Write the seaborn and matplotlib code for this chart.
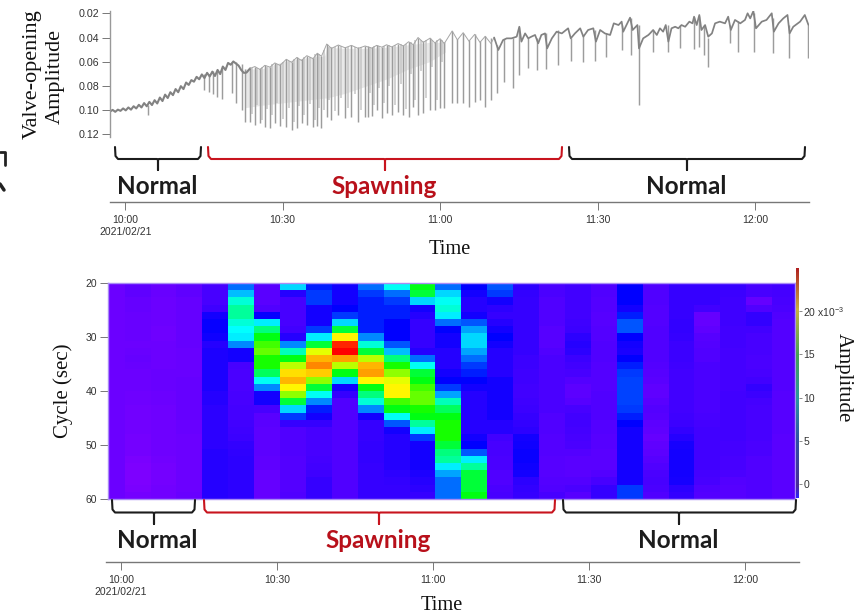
import matplotlib
matplotlib.use("Agg")
import matplotlib.pyplot as plt
from matplotlib.cm import ScalarMappable
from matplotlib.colors import LinearSegmentedColormap, Normalize
import numpy as np
import pandas as pd
import seaborn as sns

# time in minutes after 10:00, amplitude as on the inverted axis
baseline_t = [-2.9, -2.4, -1.9, -1.4, -0.9, -0.4, 0.1, 0.6, 1.1, 1.6, 2.1, 2.6, 3.1, 3.6, 4.1, 4.6, 5.1, 5.6,
              6.1, 6.6, 7.1, 7.6, 8.1, 8.6, 9.1, 9.6, 10.1, 10.6, 11.1, 11.6, 12.1, 12.6, 13.1, 13.6, 14.1, 14.6,
              15.1, 15.6, 16.1, 16.6, 17.1, 17.6, 18.1, 18.6, 19.1, 19.6, 20.1, 20.6, 21.1, 21.6, 22.1, 22.6, 23.1,
              23.8, 24.7, 25.7, 26.6, 27.6, 28.5, 29.5, 30.7, 31.7, 32.7, 33.6, 34.6, 35.8, 36.6, 37.4, 38.4, 39.3,
              40.6, 41.9, 43.1, 44.4, 45.7, 47.0, 47.9, 48.9, 49.8, 50.8, 52.0, 53.0, 54.0, 54.9, 55.8, 56.8, 58.1,
              59.0, 60.0, 60.8, 62.3, 63.3, 64.4, 65.5, 66.6, 67.6, 68.6, 69.7, 70.3, 71.1, 72.0, 72.7, 73.6, 74.6,
              75.1, 75.5, 76.2, 76.8, 77.4, 78.1, 78.7, 79.3, 80.0, 80.4, 81.3, 82.2, 83.2, 84.4, 84.9, 85.7, 86.7,
              87.3, 88.2, 89.2, 89.7, 90.5, 91.4, 92.4, 93.1, 94.0, 94.6, 94.9, 96.2, 96.7, 97.6, 97.9, 98.7, 99.7,
              100.0, 100.6, 101.3, 101.9, 102.5, 103.0, 103.5, 104.1, 104.8, 105.4, 106.0, 106.7, 107.5, 108.1,
              108.4, 108.9, 109.4, 109.8, 110.5, 111.1, 111.8, 112.4, 113.3, 114.3, 114.9, 115.4, 116.2, 117.2,
              118.1, 118.6, 119.1, 119.7, 120.2, 121.3, 122.2, 123.2, 123.6, 124.5, 125.4, 126.2, 126.6, 127.3,
              128.6, 129.5, 130.2]
baseline_amp = [.1012, .0998, .1014, .0996, .1006, .0986, .1002, .0978, .0996, .0968, .0986, .0956, .0978, .0942,
                .0968, .0932, .0958, .0918, .0945, .0896, .0925, .0872, .0900, .0852, .0876, .0826, .0852, .0802,
                .0826, .0772, .0792, .0752, .0765, .0725, .0745, .0705, .0735, .0692, .0722, .0682, .0718, .0668,
                .0702, .0640, .0668, .0610, .0625, .0598, .0615, .0632, .0668, .0692, .0690,
                .0655, .0640, .0665, .0630, .0645, .0610, .0630, .0580, .0605, .0565, .0590, .0550, .0575, .0530,
                .0555, .0454, .0490, .0462, .0485, .0465, .0490, .0470, .0488, .0465, .0480, .0460, .0478, .0450,
                .0470, .0435, .0460, .0400, .0440, .0405, .0445, .0410, .0450, .0346, .0420, .0360, .0430, .0374,
                .0440, .0390, .0450, .0400, .0503, .0421, .0407, .0407, .0393, .0311, .0434, .0366, .0407, .0393,
                .0379, .0448, .0379, .0366, .0490, .0407, .0352, .0366, .0324, .0407, .0366, .0324, .0393, .0338,
                .0324, .0434, .0338, .0366, .0379, .0283, .0297, .0269, .0352, .0236, .0338, .0297, .0490, .0407,
                .0379, .0366, .0338, .0379, .0324, .0352, .0297, .0434, .0324, .0311, .0324, .0297, .0311, .0269,
                .0283, .0228, .0297, .0214, .0338, .0297, .0393, .0366, .0283, .0269, .0283, .0228, .0338, .0255,
                .0283, .0255, .0200, .0242, .0181, .0324, .0269, .0255, .0200, .0352, .0283, .0242, .0214, .0366,
                .0311, .0269, .0214, .0297]

# the closures of the valve, each one a drop from dip_top to dip_bottom
dip_t = [4.3, 15.1, 16.0, 16.8, 17.4, 18.5, 20.3, 21.2, 22.2, 22.8,
         23.8, 24.7, 25.7, 26.6, 27.6, 28.5, 29.5, 30.7, 31.7, 32.7, 33.6, 34.6, 35.8, 36.6, 37.4, 38.4, 39.3,
         40.6, 41.9, 43.1, 44.4, 45.7, 46.2, 47.0, 47.9, 48.9, 49.8, 50.8, 52.0, 53.0, 54.0, 54.9, 55.8, 56.8,
         58.1, 59.0, 60.0, 60.8, 62.3, 63.3, 64.4, 65.5, 66.6, 67.6, 68.6, 69.7,
         70.8, 72.2, 73.8, 75.1, 76.8, 78.4, 80.2, 82.5, 85.0, 87.3, 89.5, 91.7, 94.7, 96.4, 97.9,
         100.6, 103.5, 105.7, 108.4, 109.4, 110.3, 111.1, 115.3, 116.7, 119.9, 123.4, 126.5, 130.2]
dip_top = [.0960, .0700, .0700, .0680, .0680, .0650, .0600, .0600, .0620, .0660,
           .0655, .0640, .0650, .0630, .0640, .0610, .0620, .0580, .0600, .0565, .0580, .0550, .0570, .0530, .0550,
           .0454, .0480, .0462, .0480, .0465, .0480, .0470, .0470, .0480, .0465, .0475, .0460, .0470, .0450, .0460,
           .0435, .0450, .0400, .0430, .0405, .0440, .0410, .0440, .0346, .0410, .0360, .0420, .0374, .0430, .0390,
           .0400,
           .0460, .0410, .0400, .0310, .0400, .0400, .0360, .0340, .0400, .0380, .0340, .0360, .0300, .0240, .0300,
           .0340, .0300, .0300, .0230, .0220, .0300, .0400, .0300, .0260, .0200, .0240, .0300, .0300]
dip_bottom = [.1040, .0834, .0847, .0864, .0894, .0910, .0860, .0940, .0999, .1096,
              .1096, .1123, .1107, .1137, .1148, .1107, .1129, .1137, .1164, .1145, .1107, .1123, .1137, .1129, .1148,
              .1055, .1082, .1041, .1065, .1055, .1098, .1055, .1055, .1046, .0999, .1065, .1024, .1041, .1016,
              .1041, .1060, .0972, .1041, .1024, .0999, .0999, .0983, .0983, .0941, .0941, .0941, .0972, .0933,
              .0917, .0972, .0917,
              .0861, .0765, .0820, .0710, .0655, .0669, .0660, .0627, .0594, .0600, .0594, .0564, .0503, .0545, .0958,
              .0517, .0517, .0489, .0495, .0476, .0545, .0641, .0448, .0517, .0517, .0531, .0567, .0567]

# fainter drops lying between the main ones during spawning
faint_t = [24.2, 25.2, 26.1, 27.1, 28.0, 29.0, 30.1, 31.2, 32.2, 33.1, 34.1, 35.2, 36.2, 37.0, 37.9, 38.9, 39.9,
           41.2, 42.5, 43.7, 45.0, 46.6, 47.5, 48.4, 49.3, 50.3, 51.4, 52.5, 53.5, 54.5, 55.3, 56.3, 57.4, 58.5,
           59.5, 60.4]
faint_top = [.065, .065, .064, .064, .062, .062, .060, .059, .058, .058, .056, .056, .054, .054, .050, .048, .048,
             .047, .048, .048, .048, .048, .047, .047, .047, .046, .046, .045, .045, .044, .042, .042, .042, .042,
             .042, .042]
faint_bottom = [.103, .096, .108, .099, .104, .094, .107, .098, .110, .097, .104, .095, .108, .098, .100, .092,
                .101, .090, .098, .087, .100, .086, .096, .082, .094, .080, .096, .078, .099, .070, .092, .068,
                .090, .064, .092, .060]

# pale haze between the closely spaced drops
haze_t = [22.8, 26.0, 30.0, 34.0, 38.0, 38.4, 42.0, 46.0, 50.0, 54.0, 58.0, 61.0]
haze_top = [.066, .066, .060, .057, .055, .048, .049, .049, .048, .046, .044, .044]
haze_bottom = [.098, .096, .094, .092, .090, .090, .086, .080, .074, .066, .060, .052]

amp_ticks = [0.02, 0.04, 0.06, 0.08, 0.10, 0.12]
amp_labels = ["0.02", "0.04", "0.06", "0.08", "0.10", "0.12"]
time_ticks = [0, 30, 60, 90, 120]
time_labels = ["10:00\n2021/02/21", "10:30", "11:00", "11:30", "12:00"]

# spectrogram cells, one list per time step, rows from 20 s to 60 s
col_00 = [1.0] * 30
col_01 = [1.3, 1.3, 1.2, 1.2, 1.1, 1.1, 1.1, 1.1, 1.0, 1.1, 1.2, 1.1, 1.0, 1.0, 1.0, 0.9, 0.9, 0.8, 0.8, 0.8,
          0.8, 0.7, 0.7, 0.7, 0.6, 0.5, 0.5, 0.5, 0.6, 0.7]
col_02 = [1.1, 1.1, 1.0, 1.0, 1.0, 1.0, 0.9, 0.9, 1.0, 1.0, 1.0, 1.0, 1.1, 1.1, 1.1, 1.0, 1.0, 0.9, 0.9, 0.9,
          0.9, 0.9, 0.9, 0.9, 0.8, 0.7, 0.7, 0.7, 0.8, 0.8]
col_03 = [1.3, 1.3, 1.2, 1.2, 1.2, 1.2, 1.2, 1.2, 1.2, 1.1, 1.1, 1.1, 1.1, 1.2, 1.2, 1.2, 1.2, 1.2, 1.2, 1.1,
          1.1, 1.0, 1.0, 1.0, 1.0, 1.0, 1.0, 1.0, 1.0, 1.1]
col_04 = [2.0, 2.0, 2.0, 2.3, 3.5, 3.8, 3.8, 3.6, 3.0, 3.2, 3.2, 3.2, 3.2, 3.2, 3.2, 3.0, 3.0, 2.8, 2.8, 2.8,
          2.8, 2.8, 2.8, 3.0, 3.0, 3.0, 3.0, 3.0, 3.0, 3.0]
col_05 = [6.0, 7.5, 9.5, 10.5, 10.5, 9.5, 8.8, 8.5, 6.5, 3.5, 3.5, 2.0, 1.9, 1.9, 1.9, 2.0, 2.0, 2.1, 2.1, 2.2,
          2.3, 2.4, 2.6, 2.7, 2.8, 2.8, 2.8, 2.8, 2.8, 2.8]
col_06 = [1.5, 1.5, 1.5, 1.8, 3.8, 8.5, 11.0, 12.5, 13.5, 14.0, 13.0, 13.0, 11.5, 9.0, 6.5, 3.5, 3.5, 2.0, 1.5, 1.5,
          1.4, 1.4, 1.4, 1.4, 1.3, 1.3, 1.2, 1.2, 1.2, 1.2]
col_07 = [8.0, 3.0, 2.0, 2.0, 2.0, 2.0, 2.2, 3.0, 6.5, 10.0, 12.5, 15.0, 16.5, 17.5, 16.0, 14.5, 12.0, 8.0, 5.0, 2.5,
          1.8, 1.8, 1.8, 1.8, 1.7, 1.7, 1.7, 1.7, 1.7, 1.8]
col_08 = [4.5, 5.0, 5.0, 3.5, 3.5, 3.5, 5.0, 8.5, 12.0, 15.5, 17.5, 18.5, 17.0, 14.5, 12.0, 9.0, 6.5, 4.5, 3.5, 2.5,
          2.0, 2.0, 2.0, 2.0, 2.1, 2.2, 2.3, 2.5, 2.5, 2.5]
col_09 = [3.5, 3.5, 3.5, 4.0, 5.0, 8.0, 12.0, 16.0, 21.0, 22.0, 18.0, 15.0, 12.5, 8.0, 3.5, 2.5, 1.8, 1.8, 1.8, 1.8,
          1.8, 1.8, 1.8, 1.8, 1.8, 1.8, 1.8, 1.8, 1.8, 1.8]
col_10 = [6.0, 5.0, 4.5, 4.5, 4.5, 4.5, 4.5, 6.5, 9.5, 12.0, 15.0, 17.5, 18.0, 16.0, 12.5, 11.0, 9.5, 6.5, 3.5, 2.5,
          2.5, 2.5, 2.6, 2.6, 2.6, 2.5, 2.5, 2.5, 2.5, 2.5]
col_11 = [9.0, 6.0, 5.0, 4.5, 4.5, 4.0, 4.0, 4.0, 5.5, 7.5, 11.0, 13.0, 14.5, 15.5, 16.0, 16.0, 13.5, 12.5, 9.0, 5.5,
          3.5, 3.0, 3.0, 3.0, 3.0, 3.0, 2.8, 2.6, 2.5, 2.5]
col_12 = [12.5, 12.0, 8.0, 3.5, 3.0, 2.5, 2.5, 2.5, 2.5, 3.0, 6.0, 9.0, 12.0, 12.5, 13.5, 14.0, 14.0, 13.0, 12.5, 10.5,
          8.5, 5.0, 3.5, 3.5, 3.5, 3.5, 3.2, 3.0, 2.8, 2.5]
col_13 = [6.0, 8.0, 9.0, 9.5, 8.5, 6.0, 4.0, 3.5, 3.5, 3.0, 3.0, 3.0, 3.5, 4.0, 5.0, 7.0, 10.0, 11.5, 12.5, 13.0,
          13.0, 13.0, 12.0, 11.0, 10.5, 8.5, 7.0, 6.0, 6.0, 6.0]
col_14 = [4.0, 3.5, 3.0, 3.0, 3.5, 5.5, 7.0, 8.0, 8.0, 7.0, 6.0, 5.0, 4.5, 4.0, 3.5, 3.0, 3.0, 3.0, 3.0, 3.0,
          3.0, 3.5, 4.0, 5.5, 8.5, 10.5, 12.0, 12.0, 12.0, 12.5]
col_15 = [5.5, 5.0, 3.5, 2.8, 2.5, 3.0, 3.5, 4.0, 3.5, 3.0, 3.0, 3.0, 3.0, 3.5, 3.5, 3.5, 3.5, 3.5, 3.5, 3.0,
          3.0, 2.2, 2.0, 2.0, 1.9, 1.9, 1.8, 1.8, 1.9, 2.0]
col_16 = [2.8, 2.6, 2.5, 2.5, 2.5, 2.5, 2.5, 2.5, 2.5, 2.5, 2.4, 2.4, 2.3, 2.3, 2.2, 2.2, 2.3, 2.4, 2.5, 2.6,
          2.8, 3.5, 3.6, 3.7, 3.7, 3.6, 3.5, 2.8, 2.6, 2.5]
col_17 = [1.9, 1.9, 1.8, 1.8, 1.8, 1.8, 1.6, 1.6, 1.6, 1.8, 1.9, 1.9, 1.9, 1.9, 1.9, 1.9, 1.9, 1.9, 1.8, 1.8,
          1.8, 1.7, 1.7, 1.7, 1.6, 1.6, 1.6, 1.7, 1.8, 2.0]
col_18 = [2.2, 2.2, 2.2, 2.2, 2.2, 2.3, 2.4, 2.8, 3.0, 2.8, 2.4, 2.2, 2.0, 1.7, 1.4, 1.4, 1.6, 2.0, 2.2, 2.2,
          2.1, 2.0, 1.9, 1.7, 1.5, 1.5, 1.5, 1.7, 1.9, 1.6]
col_19 = [1.8, 1.8, 1.7, 1.7, 1.6, 1.6, 1.7, 1.7, 1.8, 1.8, 1.8, 1.7, 1.7, 1.7, 1.7, 1.8, 1.8, 1.8, 1.8, 1.7,
          1.7, 1.6, 1.6, 1.5, 1.5, 1.5, 1.7, 2.0, 2.5, 2.5]
col_20 = [4.0, 4.0, 4.0, 3.5, 4.5, 5.5, 5.5, 4.0, 3.5, 3.3, 4.0, 4.5, 5.0, 5.2, 5.2, 5.2, 5.2, 5.0, 4.5, 4.0,
          3.5, 3.5, 3.5, 3.5, 3.5, 3.5, 3.5, 3.5, 5.0, 5.0]
col_21 = [1.8, 1.8, 1.8, 1.7, 1.7, 1.7, 1.8, 1.8, 1.8, 1.8, 1.8, 1.7, 1.6, 1.5, 1.3, 1.3, 1.5, 1.7, 1.6, 1.4,
          1.3, 1.2, 1.3, 1.4, 1.6, 1.8, 1.9, 2.0, 1.9, 1.8]
col_22 = [2.5, 2.5, 2.5, 2.5, 2.5, 2.6, 2.6, 2.5, 2.4, 2.4, 2.4, 2.3, 2.2, 2.2, 2.2, 2.2, 2.2, 2.2, 2.3, 2.4,
          2.6, 3.0, 3.4, 3.5, 3.5, 3.5, 3.5, 3.4, 2.8, 2.6]
col_23 = [2.5, 2.5, 2.5, 2.2, 1.2, 1.2, 1.3, 1.6, 1.7, 1.8, 1.8, 1.9, 1.9, 1.9, 1.9, 1.9, 1.9, 1.9, 2.0, 2.1,
          2.2, 2.2, 2.2, 2.2, 2.2, 2.2, 2.1, 2.0, 1.8, 1.7]
col_24 = [2.5, 2.4, 2.3, 2.3, 2.3, 2.3, 2.2, 2.2, 2.2, 2.1, 2.1, 2.1, 2.1, 2.1, 2.1, 2.2, 2.2, 2.2, 2.2, 2.2,
          2.2, 2.2, 2.1, 2.1, 2.0, 2.0, 1.9, 1.7, 1.6, 1.6]
col_25 = [2.0, 2.0, 1.2, 1.8, 2.6, 2.6, 2.2, 2.0, 2.0, 2.0, 1.9, 1.9, 2.0, 2.2, 2.6, 2.4, 2.1, 2.0, 2.0, 2.0,
          2.0, 2.0, 1.9, 1.9, 1.8, 1.8, 1.8, 1.8, 1.8, 1.8]
col_26 = [2.2, 2.1, 2.0, 1.9, 1.8, 1.7, 1.7, 1.7, 1.7, 1.7, 1.7, 1.7, 1.7, 1.7, 1.7, 1.6, 1.6, 1.6, 1.6, 1.6,
          1.6, 1.5, 1.5, 1.5, 1.5, 1.5, 1.5, 1.5, 1.5, 1.5]

cycle_ticks = [20, 30, 40, 50, 60]
bar_ticks = [0, 5, 10, 15, 20]
bar_labels = ["0", "5", "10", "15", r"20 x10$^{-3}$"]

sns.set_style("white")
plt.rcParams["font.family"] = ["Liberation Sans", "DejaVu Sans"]
plt.rcParams["mathtext.default"] = "regular"

W, H = 855, 613
fig = plt.figure(figsize=(W / 100, H / 100), dpi=100)


def px_axes(left, top, right, bottom):
    # axes placed by the pixel box it covers in the reference
    return fig.add_axes([left / W, 1 - bottom / H, (right - left) / W, (bottom - top) / H])


def time_axis(left, y, right, t0, t1):
    ax = px_axes(left, y - 1, right, y)
    ax.patch.set_alpha(0)
    ax.set_xlim(t0, t1)
    ax.set_yticks([])
    for s in ["top", "left", "right"]:
        ax.spines[s].set_visible(False)
    ax.spines["bottom"].set_color("#777777")
    ax.spines["bottom"].set_linewidth(1.0)
    ax.set_xticks(time_ticks)
    ax.set_xticklabels(time_labels, fontsize=7.5, color="#333333", linespacing=1.25)
    ax.tick_params(axis="x", bottom=True, length=6, width=0.7, color="#777777", pad=3.5)
    return ax


# ---- top trace ----
ax_trace = px_axes(110, 11, 809, 137)
ax_trace.fill_between(haze_t, haze_top, haze_bottom, color="#e8e8e8", lw=0)
ax_trace.vlines(faint_t, faint_top, faint_bottom, color="#c6c6c6", lw=1.1)
ax_trace.vlines(dip_t, dip_top, dip_bottom, color="#9c9c9c", lw=1.05)

# the line stays thin while the valve is clapping, only the tips show
i0 = baseline_t.index(23.8)
i1 = baseline_t.index(70.3)
sns.lineplot(x=baseline_t[:i0 + 1], y=baseline_amp[:i0 + 1], sort=False, estimator=None, errorbar=None,
             color="#828282", lw=1.5, ax=ax_trace)
sns.lineplot(x=baseline_t[i0:i1 + 1], y=baseline_amp[i0:i1 + 1], sort=False, estimator=None, errorbar=None,
             color="#a6a6a6", lw=0.7, ax=ax_trace)
sns.lineplot(x=baseline_t[i1:], y=baseline_amp[i1:], sort=False, estimator=None, errorbar=None,
             color="#828282", lw=1.25, ax=ax_trace)
ax_trace.set_xlim(-2.9, 130.3)
ax_trace.set_ylim(0.1222, 0.0181)
ax_trace.set_xticks([])
ax_trace.set_yticks(amp_ticks)
ax_trace.set_yticklabels(amp_labels, fontsize=7.7, color="#333333")
ax_trace.tick_params(axis="y", left=True, length=6, width=0.7, color="#777777", pad=2)
for s in ["top", "right", "bottom"]:
    ax_trace.spines[s].set_visible(False)
ax_trace.spines["left"].set_color("#999999")
ax_trace.spines["left"].set_linewidth(1.0)

time_axis(110, 202, 809, -2.9, 130.3)

# ---- spectrogram ----
cells = pd.DataFrame(np.column_stack([col_00, col_01, col_02, col_03, col_04, col_05, col_06, col_07, col_08,
                                      col_09, col_10, col_11, col_12, col_13, col_14, col_15, col_16, col_17,
                                      col_18, col_19, col_20, col_21, col_22, col_23, col_24, col_25, col_26]))
rainbow = LinearSegmentedColormap.from_list("rainbow_amp", [
    (0.00, "#8c00ff"), (0.10, "#4000ff"), (0.18, "#0000ff"), (0.30, "#0090ff"), (0.40, "#00ffff"),
    (0.50, "#00ff80"), (0.58, "#00ff00"), (0.72, "#ffff00"), (0.85, "#ff8000"), (1.00, "#ff0000")])

ax_map = px_axes(108, 283, 795, 499)
sns.heatmap(cells, cmap=rainbow, vmin=0, vmax=22, cbar=False, xticklabels=False, yticklabels=False, ax=ax_map)
ax_map.set_xlim(0.359, 26.88)
rows = cells.shape[0]
ax_map.set_yticks([(c - 20) / 40 * rows for c in cycle_ticks])
ax_map.set_yticklabels([str(c) for c in cycle_ticks], fontsize=7.5, color="#333333", rotation=0)
ax_map.tick_params(axis="y", left=True, length=6, width=0.7, color="#777777", pad=2)
for s in ax_map.spines.values():
    s.set_visible(True)
    s.set_color("#a98cf5")
    s.set_linewidth(1.0)

muted = LinearSegmentedColormap.from_list("muted_amp", [
    (0.00, "#3020ff"), (0.05, "#4a2a9a"), (0.25, "#2f4fa5"), (0.43, "#2a96a0"), (0.62, "#45a055"),
    (0.82, "#c8b040"), (1.00, "#b02020")])
ax_bar = px_axes(795.5, 268, 799, 498)
fig.colorbar(ScalarMappable(norm=Normalize(-1.6, 25), cmap=muted), cax=ax_bar)
ax_bar.set_yticks(bar_ticks)
ax_bar.set_yticklabels(bar_labels, fontsize=7.5, color="#333333")
ax_bar.tick_params(axis="y", right=True, length=2, width=0.6, color="#777777", pad=1)
for s in ax_bar.spines.values():
    s.set_visible(False)

time_axis(106, 562, 799, -2.9, 130.4)

# ---- annotations, in reference pixels ----
ax_note = fig.add_axes([0, 0, 1, 1], zorder=5)
ax_note.set_xlim(0, W)
ax_note.set_ylim(H, 0)
ax_note.axis("off")


def bracket(x0, xc, x1, y_top, y_mid, y_end, color):
    ax_note.plot([x0, x0 + 0.5, x0 + 3, xc - 1, xc, xc, xc, xc + 1, x1 - 3, x1 - 0.5, x1],
                 [y_top, y_mid - 3, y_mid, y_mid, y_mid + 1, y_end, y_mid + 1, y_mid, y_mid, y_mid - 3, y_top],
                 color=color, lw=1.5, solid_joinstyle="round")


BLACK = "#1c1c1c"
RED = "#c8141e"
LABEL_RED = "#b8101a"
bracket(115, 158, 201, 147, 159, 170, BLACK)
bracket(208, 385, 562, 147, 159, 170, RED)
bracket(569, 687, 805, 147, 159, 170, BLACK)
bracket(112, 154, 195, 500, 512.5, 524, BLACK)
bracket(204, 379, 555, 500, 512.5, 524, RED)
bracket(563, 679, 796, 500, 512.5, 524, BLACK)

note_font = dict(family="Lato", fontweight="bold", fontsize=17.5, ha="center", va="center")
ax_note.text(157, 186, "Normal", color=BLACK, **note_font)
ax_note.text(384, 187, "Spawning", color=LABEL_RED, **note_font)
ax_note.text(686, 186, "Normal", color=BLACK, **note_font)
ax_note.text(157, 540, "Normal", color=BLACK, **note_font)
ax_note.text(378, 541, "Spawning", color=LABEL_RED, **note_font)
ax_note.text(678, 540, "Normal", color=BLACK, **note_font)

serif = dict(family="Liberation Serif", color="#111111", ha="center", va="center")
ax_note.text(32, 74, "Valve-opening", rotation=90, fontsize=16, **serif)
ax_note.text(55, 76, "Amplitude", rotation=90, fontsize=16, **serif)
ax_note.text(450, 250, "Time", fontsize=14.7, **serif)
ax_note.text(442, 605, "Time", fontsize=14.7, **serif)
ax_note.text(63, 391, "Cycle (sec)", rotation=90, fontsize=15, **serif)
ax_note.text(843, 378, "Amplitude", rotation=270, fontsize=15, **serif)

# cut-off mark at the left page edge
ax_note.plot([0, 5, 5], [152, 152, 165], color="#222222", lw=2)
ax_note.plot([0, 4], [184, 190], color="#222222", lw=2.5)

fig.savefig("out.png", dpi=100)
